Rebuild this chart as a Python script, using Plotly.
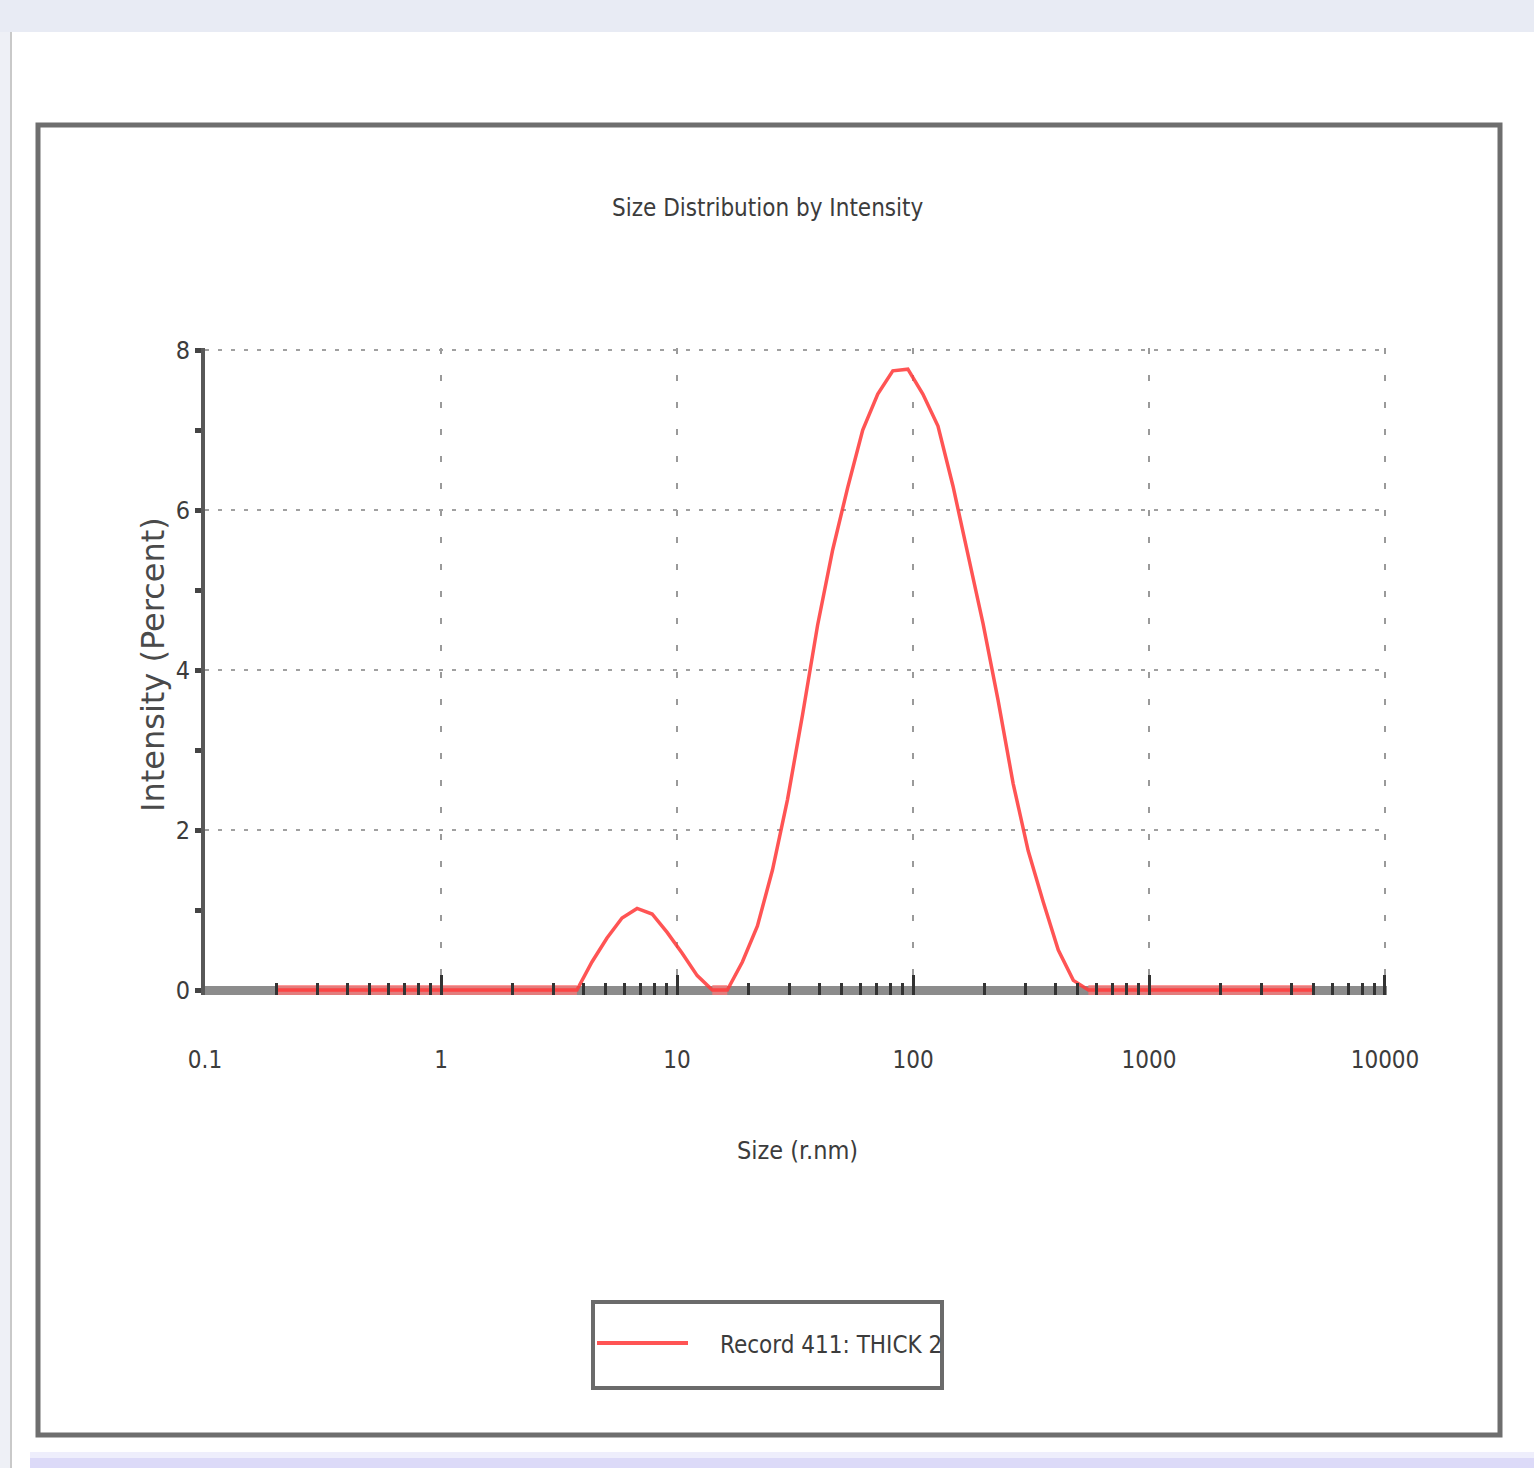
import plotly.graph_objects as go

# Size classes (radius, nm) and intensity-weighted distribution (%)
size_nm = [
    0.2, 0.2316, 0.2682, 0.3106, 0.3598, 0.4166, 0.4825, 0.5588, 0.6471, 0.7494,
    0.8679, 1.005, 1.164, 1.348, 1.561, 1.808, 2.094, 2.425, 2.808, 3.252,
    3.766, 4.361, 5.051, 5.849, 6.774, 7.845, 9.085, 10.52, 12.18, 14.11,
    16.34, 18.92, 21.92, 25.38, 29.39, 34.04, 39.42, 45.66, 52.87, 61.23,
    70.91, 82.12, 95.10, 110.1, 127.6, 147.7, 171.1, 198.1, 229.4, 265.7,
    307.7, 356.4, 412.7, 477.9, 553.5, 641.0, 742.3, 859.7, 995.6, 1153,
    1335, 1546, 1791, 2074, 2402, 2781, 3221, 3730, 4320, 5000,
]
intensity_pct = [
    0, 0, 0, 0, 0, 0, 0, 0, 0, 0,
    0, 0, 0, 0, 0, 0, 0, 0, 0, 0,
    0, 0.35, 0.65, 0.90, 1.02, 0.95, 0.72, 0.46, 0.18, 0,
    0, 0.35, 0.80, 1.50, 2.38, 3.44, 4.56, 5.50, 6.28, 7.00,
    7.45, 7.74, 7.76, 7.45, 7.05, 6.30, 5.45, 4.58, 3.62, 2.58,
    1.74, 1.10, 0.50, 0.12, 0, 0, 0, 0, 0, 0,
    0, 0, 0, 0, 0, 0, 0, 0, 0, 0,
]
series_name = "Record 411: THICK 2"

x_tick_vals = [0.1, 1, 10, 100, 1000, 10000]
x_tick_text = ["0.1", "1", "10", "100", "1000", "10000"]
y_tick_vals = [0, 2, 4, 6, 8]

chart_title = "Size Distribution by Intensity"
x_title = "Size (r.nm)"
y_title = "Intensity (Percent)"

NARROW = "Liberation Sans Narrow, Arial Narrow, DejaVu Sans Condensed, Liberation Sans, sans-serif"
TEXT = "#3c3c3c"
RED = "rgba(255,60,60,0.88)"

# the flat (zero) stretches of the curve sit on the thick baseline as a pink band
zero_runs = [0 if v == 0 else None for v in intensity_pct]

fig = go.Figure()
fig.add_trace(go.Scatter(
    x=size_nm, y=zero_runs, mode="lines",
    line=dict(color="rgba(255,120,120,0.75)", width=10),
    hoverinfo="skip", showlegend=False,
))
fig.add_trace(go.Scatter(
    x=size_nm, y=intensity_pct, mode="lines", name=series_name,
    line=dict(color=RED, width=3.5),
    showlegend=False,
))

minor_x = [m * 10 ** e for e in range(-1, 4) for m in range(2, 10)]

# ranges run a hair past 8 and 10000 so the edge gridlines are still drawn
fig.update_xaxes(
    type="log", range=[-1, 4.0085],
    tickmode="array", tickvals=x_tick_vals, ticktext=x_tick_text,
    ticks="inside", ticklen=20, tickwidth=3, tickcolor="#333",
    tickfont=dict(family=NARROW, size=24, color=TEXT),
    ticklabelstandoff=48,
    showgrid=True, gridcolor="#9a9a9a", gridwidth=2, griddash="6px,21px",
    minor=dict(tickvals=minor_x, ticks="inside", ticklen=12, tickwidth=3,
               tickcolor="#333", showgrid=False),
    showline=False, zeroline=False,
)
fig.update_yaxes(
    range=[-0.0625, 8.025],
    tickmode="array", tickvals=y_tick_vals,
    ticks="outside", ticklen=6, tickwidth=5, tickcolor="#444",
    tickfont=dict(family=NARROW, size=25, color=TEXT),
    showgrid=True, gridcolor="#a0a0a0", gridwidth=2, griddash="4px,9px",
    minor=dict(dtick=1, ticks="outside", ticklen=6, tickwidth=5, tickcolor="#444",
               showgrid=False),
    showline=True, linecolor="#585858", linewidth=4,
    zeroline=True, zerolinecolor="#8c8c8c", zerolinewidth=9,
)

L, T, W, H = 205, 348, 1182, 647


def px(x):
    return (x - L) / W


def py(y):
    return (T + H - y) / H


shapes = [
    # window chrome: top strip, left rail, bottom strip
    dict(type="rect", xref="paper", yref="paper", x0=px(0), x1=px(1534), y0=py(0), y1=py(32),
         fillcolor="#e8ebf4", line=dict(width=0), layer="below"),
    dict(type="rect", xref="paper", yref="paper", x0=px(0), x1=px(10), y0=py(32), y1=py(1468),
         fillcolor="#eef0f6", line=dict(width=0), layer="below"),
    dict(type="line", xref="paper", yref="paper", x0=px(11), x1=px(11), y0=py(32), y1=py(1468),
         line=dict(color="#c9c9c9", width=2)),
    dict(type="rect", xref="paper", yref="paper", x0=px(30), x1=px(1534), y0=py(1452), y1=py(1458),
         fillcolor="#eeeefc", line=dict(width=0), layer="below"),
    dict(type="rect", xref="paper", yref="paper", x0=px(30), x1=px(1534), y0=py(1458), y1=py(1468),
         fillcolor="#dcdaf8", line=dict(width=0), layer="below"),
    # chart frame
    dict(type="rect", xref="paper", yref="paper", x0=px(38), x1=px(1500), y0=py(125), y1=py(1435),
         line=dict(color="#6e6e6e", width=5), layer="below"),
    # legend box and sample line
    dict(type="rect", xref="paper", yref="paper", x0=px(593), x1=px(942), y0=py(1302), y1=py(1388),
         fillcolor="white", line=dict(color="#6b6b6b", width=4)),
    dict(type="line", xref="paper", yref="paper", x0=px(597), x1=px(688), y0=py(1343), y1=py(1343),
         line=dict(color=RED, width=4)),
]

annotations = [
    dict(text=chart_title, xref="paper", yref="paper", x=px(768), y=py(208),
         xanchor="center", yanchor="middle", showarrow=False,
         font=dict(family=NARROW, size=24, color=TEXT)),
    dict(text=x_title, xref="paper", yref="paper", x=px(797), y=py(1150),
         xanchor="center", yanchor="middle", showarrow=False,
         font=dict(family=NARROW, size=25, color=TEXT)),
    dict(text=y_title, xref="paper", yref="paper", x=px(153), y=py(665),
         xanchor="center", yanchor="middle", showarrow=False, textangle=-90,
         font=dict(family="DejaVu Sans, Liberation Sans, sans-serif", size=32, color="#4a4a4a")),
    dict(text=series_name, xref="paper", yref="paper", x=px(718), y=py(1345),
         xanchor="left", yanchor="middle", showarrow=False,
         font=dict(family=NARROW, size=24, color=TEXT)),
]

fig.update_layout(
    width=1534, height=1468,
    margin=dict(l=L, r=1534 - L - W, t=T, b=1468 - T - H),
    paper_bgcolor="white", plot_bgcolor="white",
    shapes=shapes, annotations=annotations,
    showlegend=False,
)

fig.write_html("out.html")
